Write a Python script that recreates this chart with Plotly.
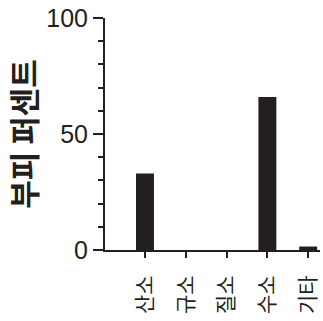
import plotly.graph_objects as go

categories = ["산소", "규소", "질소", "수소", "기타"]
values = [33, 0, 0, 66, 1.5]
y_title = "부피 퍼센트"

fig = go.Figure(go.Bar(x=categories, y=values, marker=dict(color="#231f20", line=dict(width=0)), width=0.44))

fig.update_layout(
    width=323, height=321,
    margin=dict(l=105, r=3, t=18, b=71, autoexpand=False),
    paper_bgcolor="white", plot_bgcolor="white",
    showlegend=False,
    font=dict(family="Liberation Sans, Arial, sans-serif", color="#231f20"),
)
fig.update_xaxes(
    range=[-0.98, 4.29], showline=True, linecolor="#231f20", linewidth=2,
    ticks="outside", ticklen=6, tickwidth=2, tickcolor="#231f20",
    tickangle=-90, tickfont=dict(size=21, family="Noto Sans CJK KR", color="#231f20"),
    ticklabelstandoff=9,
    showgrid=False, zeroline=False, automargin=False,
)
fig.update_yaxes(
    range=[0, 100], showline=True, linecolor="#231f20", linewidth=2,
    ticks="outside", ticklen=10, tickwidth=2, tickcolor="#231f20",
    tickvals=[0, 50, 100], tickfont=dict(size=25, color="#231f20"),
    minor=dict(ticks="outside", ticklen=5, tickwidth=2, tickcolor="#231f20", tickvals=[10, 20, 30, 40, 60, 70, 80, 90], showgrid=False),
    showgrid=False, zeroline=False, automargin=False,
    title=dict(text="<b>" + y_title + "</b>", font=dict(size=31, family="Noto Sans CJK KR", color="#231f20"), standoff=13),
)
fig.write_html("out.html", config={"displayModeBar": False}, post_script="document.body.style.margin='0px';")
